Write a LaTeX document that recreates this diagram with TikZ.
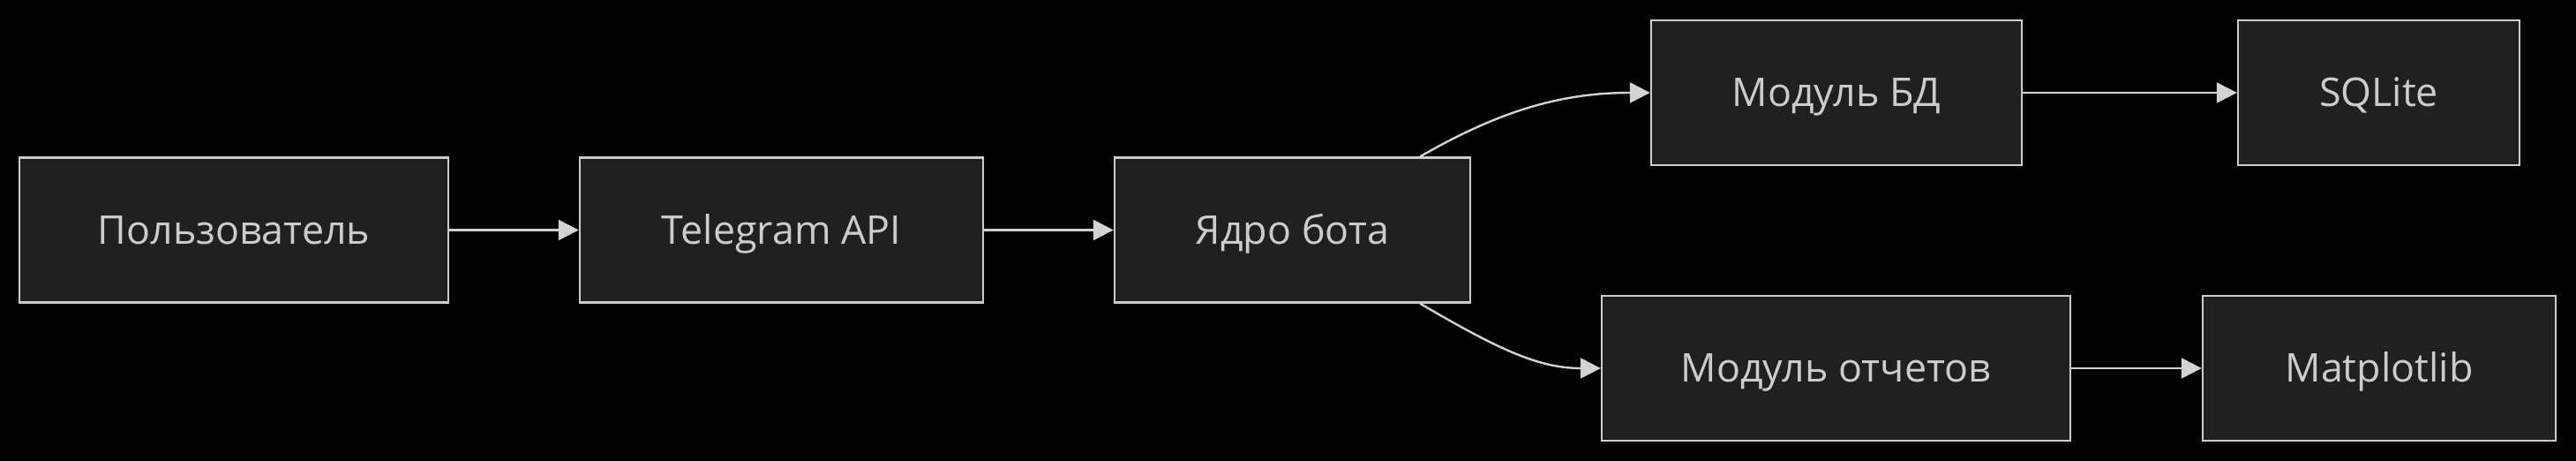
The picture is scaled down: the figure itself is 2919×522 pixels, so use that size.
\documentclass[tikz,border=0pt]{standalone}
\usepackage{fontspec}
\setmainfont{Open Sans}
\usetikzlibrary{arrows.meta}
\definecolor{bg}{HTML}{000000}
\definecolor{boxfill}{HTML}{1F2020}
\definecolor{boxline}{HTML}{CCCCCC}
\definecolor{txt}{HTML}{CCCCCC}
\definecolor{arr}{HTML}{D3D3D3}
\tikzset{
  box/.style={draw=boxline, fill=boxfill, line width=0.6pt, text=txt, font=\fontsize{11.2pt}{13pt}\selectfont, text height=8pt, text depth=0pt, minimum height=41pt, inner sep=0pt, anchor=center},
  link/.style={draw=arr, line width=0.6pt, -{Triangle[length=5.75pt,width=5.75pt]}}
}
\begin{document}
\begin{tikzpicture}[x=0.25pt,y=-0.25pt]
\fill[bg] (0,0) rectangle (2919,522);
\useasboundingbox (0,0) rectangle (2919,522);
\node[box, minimum width=121.5pt] (user) at (265,260.5) {Пользователь};
\node[box, minimum width=114.25pt] (tg) at (885.5,260.5) {Telegram API};
\node[box, minimum width=100.75pt] (core) at (1464.5,260.5) {Ядро бота};
\node[box, minimum width=105pt] (db) at (2081,105) {Модуль БД};
\node[box, minimum width=79.75pt] (sql) at (2695.5,105) {SQLite};
\node[box, minimum width=132.75pt] (rep) at (2080.5,417) {Модуль отчетов};
\node[box, minimum width=100pt] (mpl) at (2696,417) {Matplotlib};
\coordinate (c1) at ([xshift=-14.5pt]core.north east);
\coordinate (c2) at ([xshift=-14.5pt]core.south east);
\draw[link] (user) -- (tg);
\draw[link] (tg) -- (core);
\draw[link] (c1) .. controls (1700,125) and (1770,105) .. (db.west);
\draw[link] (c2) .. controls (1700,397) and (1745,417) .. (rep.west);
\draw[link] (db) -- (sql);
\draw[link] (rep) -- (mpl);
\end{tikzpicture}
\end{document}
